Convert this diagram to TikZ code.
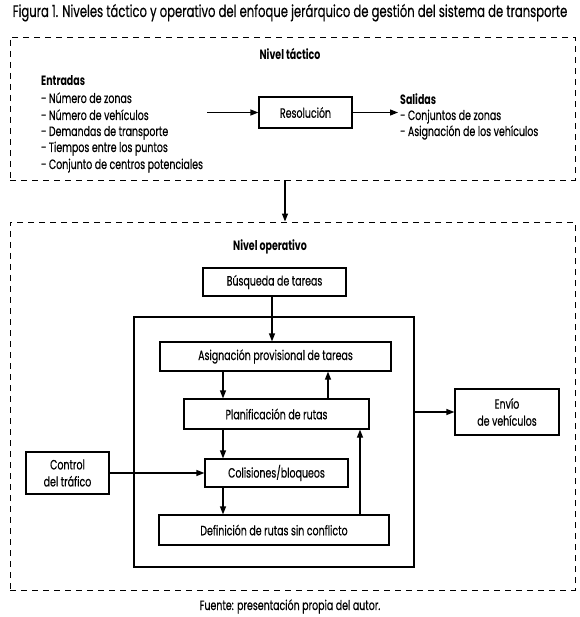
\documentclass[tikz,border=0pt]{standalone}
\usepackage{fontspec}
\setmainfont{Poppins}[FakeStretch=0.70,UprightFeatures={FakeBold=0.4}]
\usetikzlibrary{arrows.meta,calc}
\begin{document}
\begin{tikzpicture}[x=1pt,y=-1pt,
  txt/.style={inner sep=0pt,font=\fontsize{13.5}{15}\selectfont},
  boxnode/.style={draw,line width=1.2pt,inner sep=0pt,align=center,font=\fontsize{13.5}{17}\selectfont},
  dashbox/.style={draw,line width=0.9pt,dash pattern=on 6pt off 5pt,inner sep=0pt},
  arr/.style={line width=1.2pt,-{Triangle[length=8pt,width=6pt]}}
]
\useasboundingbox (0,0) rectangle (579,617);
% title
\node[txt,anchor=base,font=\fontsize{16.6}{18}\selectfont] (title) at (290,17) {Figura 1. Niveles táctico y operativo del enfoque jerárquico de gestión del sistema de transporte};
% containers
\node[dashbox,minimum width=565pt,minimum height=143pt] (tac) at (292.5,108.5) {};
\node[dashbox,minimum width=565pt,minimum height=368pt] (ope) at (292.5,406) {};
\node[draw,line width=1.2pt,inner sep=0pt,minimum width=280pt,minimum height=250pt] (big) at (274,442) {};
% tactical level
\node[txt,anchor=base,font=\fontsize{13.5}{15}\bfseries] (ntac) at (290,60) {Nivel táctico};
\node[txt,anchor=base west,font=\fontsize{13.5}{15}\bfseries] (ent) at (41,86) {Entradas};
\node[txt,anchor=base west] (e1) at (41,103) {- Número de zonas};
\node[txt,anchor=base west] (e2) at (41,120) {- Número de vehículos};
\node[txt,anchor=base west] (e3) at (41,136) {- Demandas de transporte};
\node[txt,anchor=base west] (e4) at (41,152) {- Tiempos entre los puntos};
\node[txt,anchor=base west] (e5) at (41,169) {- Conjunto de centros potenciales};
\node[boxnode,minimum width=93pt,minimum height=31pt] (res) at (305.5,112.5) {Resolución};
\node[txt,anchor=base west,font=\fontsize{13.5}{15}\bfseries] (sal) at (400,105) {Salidas};
\node[txt,anchor=base west] (s1) at (400,120) {- Conjuntos de zonas};
\node[txt,anchor=base west] (s2) at (400,136) {- Asignación de los vehículos};
\coordinate (inS) at (207,112.5);
\coordinate (outE) at (398,112.5);
\draw[arr] (inS) -- (res.west);
\draw[arr] (res.east) -- (outE);
% link between levels
\coordinate (xl) at (285,0);
\draw[arr] (tac.south -| xl) -- (ope.north -| xl);
% operative level
\node[txt,anchor=base,font=\fontsize{13.5}{15}\bfseries] (nope) at (270,251) {Nivel operativo};
\node[boxnode,minimum width=143pt,minimum height=28pt] (busq) at (274.5,282) {Búsqueda de tareas};
\node[boxnode,minimum width=231pt,minimum height=29pt] (asig) at (275.5,356.5) {Asignación provisional de tareas};
\node[boxnode,minimum width=185pt,minimum height=30pt] (plan) at (276.5,414) {Planificación de rutas};
\node[boxnode,minimum width=143pt,minimum height=28pt] (coli) at (276.5,473) {Colisiones/bloqueos};
\node[boxnode,minimum width=230pt,minimum height=30pt] (defi) at (274,530) {Definición de rutas sin conflicto};
\node[boxnode,minimum width=83pt,minimum height=42pt] (ctrl) at (67.5,473) {Control\\del tráfico};
\node[boxnode,minimum width=104pt,minimum height=46pt] (envio) at (507,412) {Envío\\de vehículos};
\coordinate (xa) at (272,0);
\coordinate (xb) at (223,0);
\coordinate (xc) at (328,0);
\coordinate (xd) at (360,0);
\draw[arr] (busq.south -| xa) -- (asig.north -| xa);
\draw[arr] (asig.south -| xb) -- (plan.north -| xb);
\draw[arr] (plan.north -| xc) -- (asig.south -| xc);
\draw[arr] (plan.south -| xb) -- (coli.north -| xb);
\draw[arr] (coli.south -| xb) -- (defi.north -| xb);
\draw[arr] (defi.north -| xd) -- (plan.south -| xd);
\draw[arr] (ctrl.east) -- (coli.west);
\draw[arr] (big.east |- envio.west) -- (envio.west);
% source
\node[txt,anchor=base] (src) at (290,610) {Fuente: presentación propia del autor.};
\end{tikzpicture}
\end{document}
